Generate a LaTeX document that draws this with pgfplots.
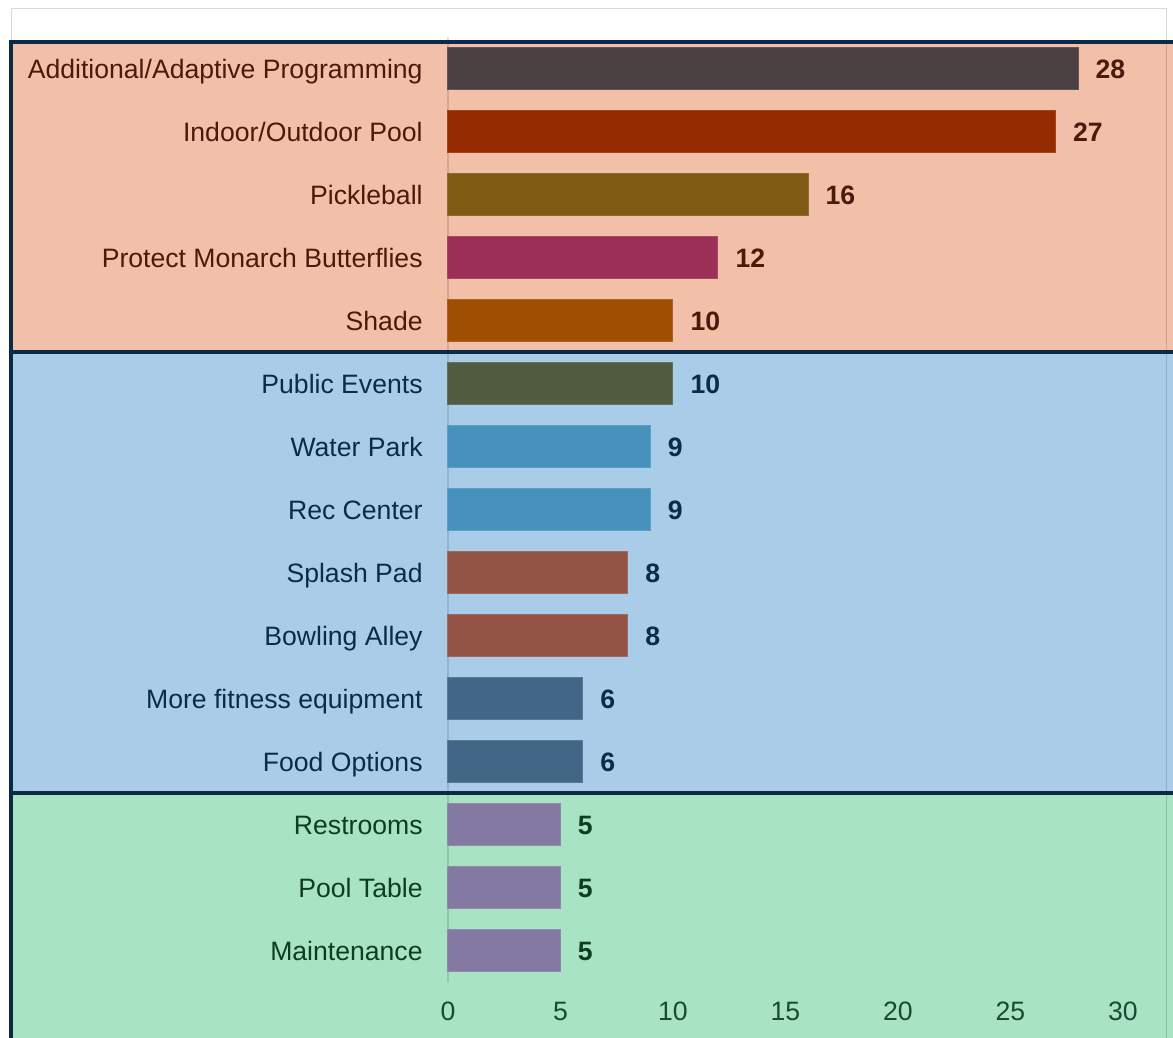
\documentclass[border=0pt]{standalone}
\usepackage{pgfplots}
\pgfplotsset{compat=1.18}
\usepackage{fontspec}
\setmainfont{Liberation Sans}

% bands
\definecolor{bandA}{HTML}{F2BFA9}
\definecolor{bandB}{HTML}{A9CDE8}
\definecolor{bandC}{HTML}{A8E3C4}
\definecolor{edge}{HTML}{0B2A47}
% text
\definecolor{txtA}{HTML}{4A1A0A}
\definecolor{txtB}{HTML}{0D2B47}
\definecolor{txtC}{HTML}{0E3D22}
\definecolor{tickc}{HTML}{1A4A33}
% bars
\definecolor{b1}{HTML}{4A3F41}
\definecolor{b2}{HTML}{952B00}
\definecolor{b3}{HTML}{7F5A12}
\definecolor{b4}{HTML}{9C2F55}
\definecolor{b5}{HTML}{A04E00}
\definecolor{b6}{HTML}{525C40}
\definecolor{b7}{HTML}{4791BD}
\definecolor{b8}{HTML}{935445}
\definecolor{b9}{HTML}{426786}
\definecolor{b10}{HTML}{8479A3}

\begin{document}
\begin{tikzpicture}
\begin{axis}[
  set layers,
  scale only axis,
  width=337.5pt, height=472.5pt,
  xmin=0, xmax=30,
  ymin=-0.5, ymax=14.5,
  y dir=reverse,
  clip=false,
  xbar, bar width=21pt, bar shift=0pt,
  axis line style={draw=none},
  major tick length=0pt,
  xtick={0,5,...,30},
  ytick={0,...,14},
  yticklabels={
    \textcolor{txtA}{Additional/Adaptive Programming},
    \textcolor{txtA}{Indoor/Outdoor Pool},
    \textcolor{txtA}{Pickleball},
    \textcolor{txtA}{Protect Monarch Butterflies},
    \textcolor{txtA}{Shade},
    \textcolor{txtB}{Public Events},
    \textcolor{txtB}{Water Park},
    \textcolor{txtB}{Rec Center},
    \textcolor{txtB}{Splash Pad},
    \textcolor{txtB}{Bowling Alley},
    \textcolor{txtB}{More fitness equipment},
    \textcolor{txtB}{Food Options},
    \textcolor{txtC}{Restrooms},
    \textcolor{txtC}{Pool Table},
    \textcolor{txtC}{Maintenance}},
  tick label style={font=\fontsize{13.3}{16}\selectfont},
  /pgf/number format/assume math mode=true,
  xticklabel style={anchor=center, yshift=-15.25pt, text=tickc,
    text height=0.72em, text depth=0pt},
  yticklabel style={anchor=east, inner sep=0pt, xshift=-12.5pt, yshift=-1pt,
    text height=0.72em, text depth=0pt},
  nodes near coords,
  nodes near coords style={font=\fontsize{13.3}{16}\selectfont\bfseries,
    anchor=west, inner sep=0pt, xshift=8.5pt, yshift=-1pt,
    text height=0.72em, text depth=0pt},
  every axis plot/.append style={line width=0.5pt},
]

\begin{pgfonlayer}{axis background}
  \fill[bandA] (axis cs:-19.42,-0.4286) rectangle (axis cs:32.3,4.5);
  \fill[bandB] (axis cs:-19.42,4.5) rectangle (axis cs:32.3,11.5);
  \fill[bandC] (axis cs:-19.42,11.5) rectangle (axis cs:32.3,15.5);
  \draw[black, opacity=0.15, line width=0.5pt]
    (axis cs:-19.42,15.5) -- (axis cs:-19.42,-0.9524)
    -- (axis cs:31.911,-0.9524) -- (axis cs:31.911,15.5);
  \draw[black, opacity=0.12, line width=0.8pt]
    (axis cs:0,-0.5) -- (axis cs:0,14.5);
  \draw[edge, line width=2pt]
    (axis cs:-19.42,15.5) -- (axis cs:-19.42,-0.4286) -- (axis cs:32.3,-0.4286);
  \draw[edge, line width=2pt] (axis cs:-19.42,4.5) -- (axis cs:32.3,4.5);
  \draw[edge, line width=2pt] (axis cs:-19.42,11.5) -- (axis cs:32.3,11.5);
\end{pgfonlayer}

\addplot[fill=b1, draw=b1!88!white, nodes near coords style={text=txtA}] coordinates {(28,0)};
\addplot[fill=b2, draw=b2!88!white, nodes near coords style={text=txtA}] coordinates {(27,1)};
\addplot[fill=b3, draw=b3!88!white, nodes near coords style={text=txtA}] coordinates {(16,2)};
\addplot[fill=b4, draw=b4!88!white, nodes near coords style={text=txtA}] coordinates {(12,3)};
\addplot[fill=b5, draw=b5!88!white, nodes near coords style={text=txtA}] coordinates {(10,4)};
\addplot[fill=b6, draw=b6!88!white, nodes near coords style={text=txtB}] coordinates {(10,5)};
\addplot[fill=b7, draw=b7!88!white, nodes near coords style={text=txtB}] coordinates {(9,6) (9,7)};
\addplot[fill=b8, draw=b8!88!white, nodes near coords style={text=txtB}] coordinates {(8,8) (8,9)};
\addplot[fill=b9, draw=b9!88!white, nodes near coords style={text=txtB}] coordinates {(6,10) (6,11)};
\addplot[fill=b10, draw=b10!88!white, nodes near coords style={text=txtC}] coordinates {(5,12) (5,13) (5,14)};

\coordinate (bbA) at (axis cs:-19.911,-1.0952);
\coordinate (bbB) at (axis cs:32.222,15.381);
\end{axis}
\pgfresetboundingbox
\path[use as bounding box] (bbA) rectangle (bbB);
\end{tikzpicture}
\end{document}
